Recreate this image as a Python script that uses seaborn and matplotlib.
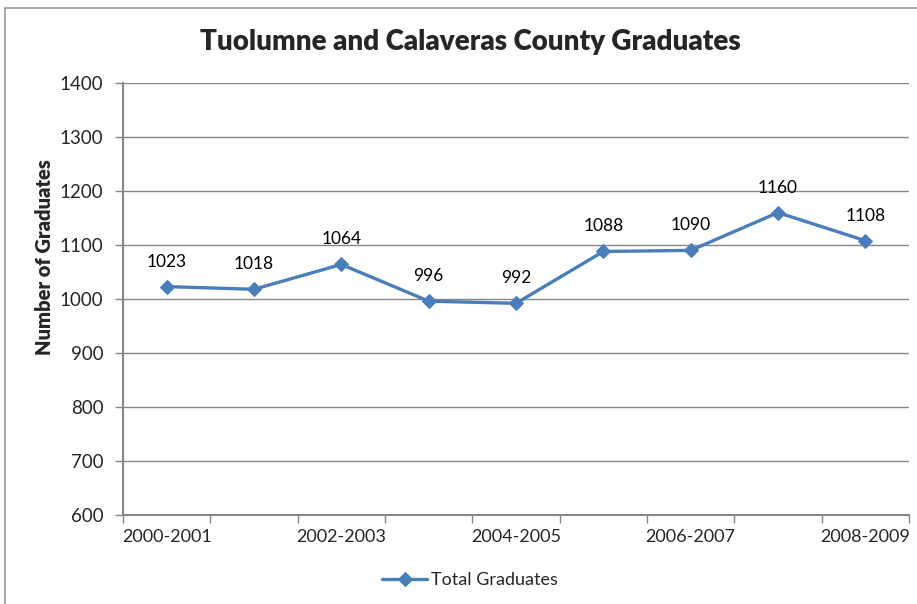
import matplotlib
matplotlib.use("Agg")
import matplotlib.pyplot as plt
import seaborn as sns
import pandas as pd
from matplotlib.patches import Rectangle

# data
years = ["2000-2001", "2001-2002", "2002-2003", "2003-2004", "2004-2005",
         "2005-2006", "2006-2007", "2007-2008", "2008-2009"]
graduates = [1023, 1018, 1064, 996, 992, 1088, 1090, 1160, 1108]
shown_labels = ["2000-2001", "2002-2003", "2004-2005", "2006-2007", "2008-2009"]

df = pd.DataFrame({"year": years, "graduates": graduates})
df["pos"] = range(len(years))

sns.set_style("white")
plt.rcParams["font.family"] = ["Lato", "DejaVu Sans"]

blue = "#4A7EBB"
grey = "#868686"

fig = plt.figure(figsize=(9.17, 6.04), dpi=100)
ax = fig.add_axes([123 / 917, 1 - 515 / 604, (909 - 123) / 917, (515 - 83) / 604])

# chart frame (runs off the right/bottom of the image)
fig.patches.append(Rectangle((5 / 917, -0.1), 1.2, 1 - 8 / 604 + 0.1,
                             transform=fig.transFigure, fill=False,
                             edgecolor="#999999", linewidth=1.2))

sns.lineplot(data=df, x="pos", y="graduates", ax=ax, color=blue, linewidth=2.4,
             marker="D", markersize=7, markeredgecolor=blue,
             label="Total Graduates")

for x, v in zip(df["pos"], df["graduates"]):
    ax.annotate(str(v), (x, v), xytext=(0, 18), textcoords="offset points",
                ha="center", va="center", fontsize=12.5, color="black")

ax.set_xlim(-0.5, len(years) - 0.5)
ax.set_ylim(600, 1400)
ax.set_yticks(range(600, 1401, 100))
ax.yaxis.grid(True, color=grey, linewidth=1)
ax.set_axisbelow(True)

# ticks between categories, labels on every other category
ax.set_xticks([i - 0.5 for i in range(len(years) + 1)])
ax.set_xticklabels([])
label_pos = [years.index(l) for l in shown_labels]
ax.set_xticks(label_pos, minor=True)
ax.set_xticklabels(shown_labels, minor=True, fontsize=13)
ax.tick_params(axis="x", which="major", length=6, width=1, color=grey, direction="out", bottom=True)
ax.tick_params(axis="x", which="minor", length=0, pad=10)
ax.tick_params(axis="y", length=6, width=1, color=grey, direction="out", left=True,
               labelsize=13.5, pad=8)

for s in ["top", "right"]:
    ax.spines[s].set_visible(False)
for s in ["left", "bottom"]:
    ax.spines[s].set_color(grey)
    ax.spines[s].set_linewidth(1.5)

ax.set_xlabel("")
ax.set_ylabel("")
fig.text(45 / 917, 1 - 257 / 604, "Number of Graduates", rotation=90,
         ha="center", va="center", fontsize=14.5, fontweight="heavy")
fig.text(470 / 917, 1 - 42 / 604, "Tuolumne and Calaveras County Graduates",
         ha="center", va="center", fontsize=20, fontweight="heavy")

ax.legend(loc="center", bbox_to_anchor=(470 / 917, 1 - 580 / 604),
          bbox_transform=fig.transFigure, frameon=False, fontsize=13,
          handlelength=2.5, handletextpad=0.2)

fig.savefig("out.png", dpi=100)
